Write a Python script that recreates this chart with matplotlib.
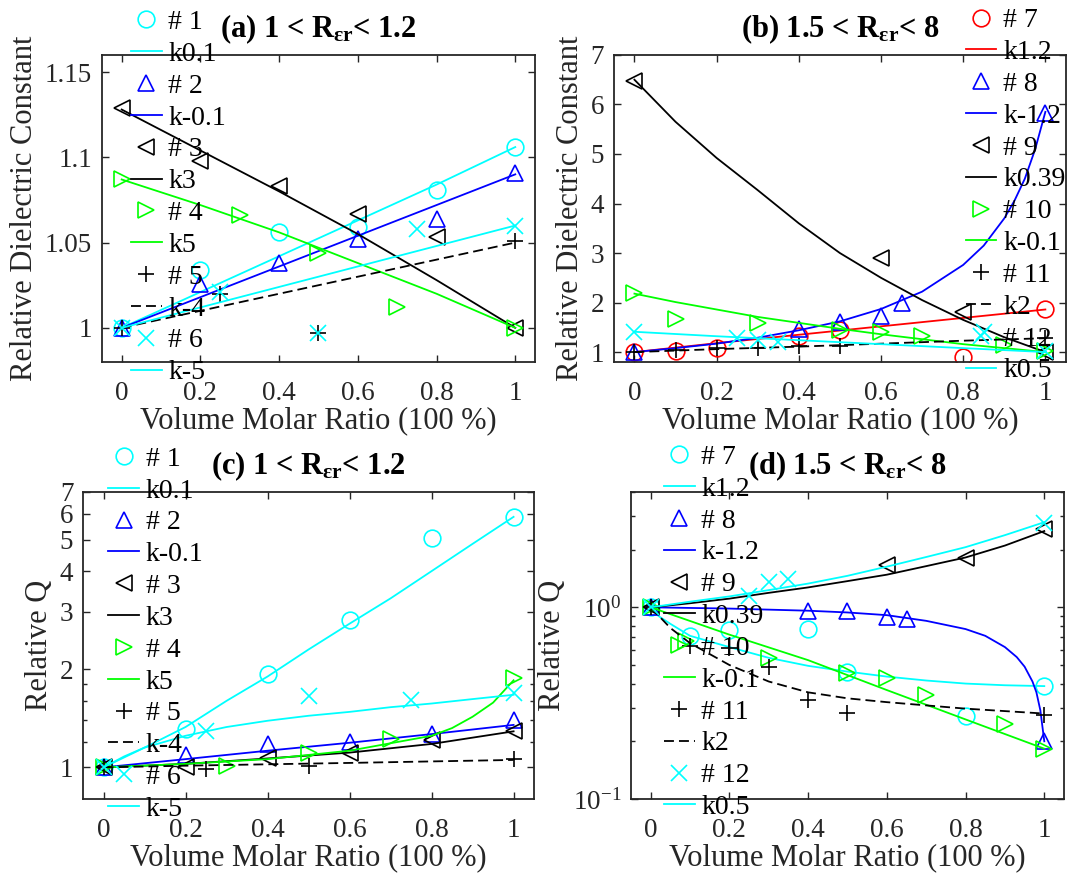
import numpy as np
import matplotlib
matplotlib.use('Agg')
import matplotlib.pyplot as plt
from matplotlib.ticker import FuncFormatter, FixedLocator, LogLocator, NullFormatter

plt.rcParams['font.family'] = 'Liberation Serif'
plt.rcParams['mathtext.fontset'] = 'custom'
plt.rcParams['mathtext.rm'] = 'Liberation Serif'
plt.rcParams['mathtext.it'] = 'Liberation Serif:italic'
plt.rcParams['mathtext.bf'] = 'Liberation Serif:bold'
plt.rcParams['mathtext.fallback'] = 'stix'

# ---- panel (a): relative dielectric constant, 1 < R < 1.2 ----
a_labels = ['# 1', 'k0.1', '# 2', 'k-0.1', '# 3', 'k3', '# 4', 'k5', '# 5', 'k-4', '# 6', 'k-5']
a_mark_x = [[0, 0.2, 0.4, 0.6, 0.8, 1],
            [0, 0.2, 0.4, 0.6, 0.8, 1],
            [0, 0.2, 0.4, 0.6, 0.8, 1],
            [0, 0.3, 0.5, 0.7, 1],
            [0, 0.25, 0.5, 1],
            [0, 0.25, 0.5, 0.75, 1]]
a_mark_y = [[1.0, 1.034, 1.056, 1.059, 1.081, 1.106],
            [1.0, 1.026, 1.038, 1.052, 1.064, 1.091],
            [1.129, 1.098, 1.083, 1.067, 1.053, 1.0],
            [1.087, 1.066, 1.044, 1.012, 1.0],
            [1.0, 1.02, 0.997, 1.051],
            [1.0, 1.021, 0.997, 1.058, 1.06]]
a_fit_x = [[0, 0.2, 0.4, 0.6, 0.8, 1]] * 6
a_fit_y = [[1.0, 1.021, 1.042, 1.063, 1.084, 1.106],
           [1.0, 1.018, 1.036, 1.054, 1.072, 1.09],
           [1.128, 1.104, 1.080, 1.055, 1.028, 1.0],
           [1.087, 1.072, 1.056, 1.038, 1.020, 1.0],
           [1.0, 1.01, 1.02, 1.03, 1.04, 1.05],
           [1.0, 1.012, 1.024, 1.036, 1.048, 1.06]]

# ---- panel (b): relative dielectric constant, 1.5 < R < 8 ----
b_labels = ['# 7', 'k1.2', '# 8', 'k-1.2', '# 9', 'k0.39', '# 10', 'k-0.1', '# 11', 'k2', '# 12', 'k0.5']
b_mark_x = [[0, 0.1, 0.2, 0.4, 0.5, 0.8, 1],
            [0, 0.4, 0.5, 0.6, 0.65, 1],
            [0, 0.6, 0.8, 1],
            [0, 0.1, 0.3, 0.5, 0.6, 0.7, 0.9, 1],
            [0, 0.1, 0.2, 0.3, 0.4, 0.5, 1],
            [0, 0.25, 0.3, 0.35, 0.85, 1]]
b_mark_y = [[1.0, 1.03, 1.09, 1.33, 1.45, 0.9, 1.86],
            [1.0, 1.47, 1.6, 1.72, 2.0, 5.83],
            [6.47, 2.9, 1.8, 1.0],
            [2.19, 1.66, 1.58, 1.45, 1.4, 1.33, 1.14, 1.03],
            [1.0, 1.04, 1.09, 1.08, 1.12, 1.13, 1.28],
            [1.41, 1.29, 1.24, 1.21, 1.41, 1.02]]
b_fit_x = [[0, 0.2, 0.4, 0.6, 0.8, 1],
           [0, 0.1, 0.2, 0.3, 0.4, 0.5, 0.6, 0.7, 0.8, 0.85, 0.9, 0.925, 0.95, 0.975, 1],
           [0, 0.1, 0.2, 0.3, 0.4, 0.5, 0.6, 0.7, 0.8, 0.9, 1],
           [0, 0.1, 0.2, 0.3, 0.4, 0.5, 0.6, 0.7, 0.8, 0.9, 1],
           [0, 0.2, 0.4, 0.6, 0.8, 1],
           [0, 0.2, 0.4, 0.6, 0.8, 1]]
b_fit_y = [[1.0, 1.18, 1.35, 1.52, 1.69, 1.86],
           [1.0, 1.08, 1.17, 1.29, 1.44, 1.62, 1.87, 2.22, 2.76, 3.15, 3.7, 4.06, 4.5, 5.09, 5.85],
           [6.5, 5.65, 4.92, 4.27, 3.6, 3.0, 2.5, 2.05, 1.65, 1.3, 1.0],
           [2.18, 2.01, 1.86, 1.71, 1.59, 1.47, 1.36, 1.26, 1.16, 1.08, 1.0],
           [1.0, 1.06, 1.11, 1.17, 1.23, 1.28],
           [1.41, 1.32, 1.24, 1.16, 1.08, 1.0]]

# ---- panel (c): relative Q, 1 < R < 1.2 ----
c_labels = a_labels
c_mark_x = [[0, 0.2, 0.4, 0.6, 0.8, 1],
            [0, 0.2, 0.4, 0.6, 0.8, 1],
            [0, 0.2, 0.4, 0.6, 0.8, 1],
            [0, 0.3, 0.5, 0.7, 1],
            [0, 0.25, 0.5, 1],
            [0, 0.25, 0.5, 0.75, 1]]
c_mark_y = [[1.0, 1.31, 1.94, 2.83, 5.06, 5.87],
            [1.0, 1.09, 1.18, 1.2, 1.27, 1.4],
            [1.0, 1.0, 1.07, 1.11, 1.21, 1.29],
            [1.0, 1.01, 1.11, 1.22, 1.88],
            [1.0, 0.99, 1.01, 1.06],
            [1.0, 1.29, 1.65, 1.61, 1.69]]
c_fit_x = [[0, 0.1, 0.2, 0.3, 0.4, 0.5, 0.6, 0.7, 0.8, 0.9, 1],
           [0, 0.2, 0.4, 0.6, 0.8, 1],
           [0, 0.2, 0.4, 0.6, 0.8, 1],
           [0, 0.2, 0.4, 0.6, 0.8, 0.85, 0.9, 0.95, 1],
           [0, 0.2, 0.4, 0.6, 0.8, 1],
           [0, 0.05, 0.1, 0.2, 0.3, 0.4, 0.5, 0.6, 0.7, 0.8, 0.9, 1]]
c_fit_y = [[1.0, 1.15, 1.33, 1.6, 1.9, 2.3, 2.76, 3.3, 4.0, 4.85, 5.87],
           [1.0, 1.06, 1.125, 1.19, 1.265, 1.35],
           [1.0, 1.025, 1.065, 1.11, 1.18, 1.29],
           [1.0, 1.025, 1.06, 1.125, 1.25, 1.32, 1.43, 1.58, 1.85],
           [1.0, 1.012, 1.022, 1.032, 1.043, 1.054],
           [1.0, 1.08, 1.15, 1.25, 1.33, 1.39, 1.44, 1.48, 1.53, 1.57, 1.62, 1.67]]

# ---- panel (d): relative Q, 1.5 < R < 8 ----
d_labels = b_labels
d_mark_x = [[0, 0.1, 0.2, 0.4, 0.5, 0.8, 1],
            [0, 0.4, 0.5, 0.6, 0.65, 1],
            [0, 0.6, 0.8, 1],
            [0, 0.09, 0.3, 0.5, 0.6, 0.7, 0.9, 1],
            [0, 0.1, 0.2, 0.3, 0.4, 0.5, 1],
            [0, 0.25, 0.3, 0.35, 1]]
d_mark_y = [[1.0, 0.71, 0.76, 0.77, 0.46, 0.27, 0.39],
            [1.0, 0.955, 0.955, 0.89, 0.865, 0.2],
            [1.0, 1.66, 1.81, 2.57],
            [1.0, 0.665, 0.545, 0.455, 0.43, 0.35, 0.245, 0.183],
            [1.0, 0.63, 0.61, 0.49, 0.33, 0.28, 0.275],
            [1.0, 1.15, 1.36, 1.4, 2.74]]
d_fit_x = [[0, 0.02, 0.05, 0.1, 0.2, 0.3, 0.4, 0.5, 0.6, 0.7, 0.8, 0.9, 1],
           [0, 0.2, 0.4, 0.5, 0.6, 0.7, 0.8, 0.85, 0.9, 0.93, 0.95, 0.97, 0.98, 0.99, 1],
           [0, 0.1, 0.2, 0.3, 0.4, 0.5, 0.6, 0.7, 0.8, 0.9, 1],
           [0, 0.2, 0.4, 0.6, 0.8, 1],
           [0, 0.05, 0.1, 0.2, 0.3, 0.4, 0.5, 0.6, 0.8, 1],
           [0, 0.1, 0.2, 0.3, 0.4, 0.5, 0.6, 0.7, 0.8, 0.9, 1]]
d_fit_y = [[1.0, 0.9, 0.82, 0.71, 0.62, 0.545, 0.495, 0.462, 0.435, 0.415, 0.40, 0.392, 0.388],
           [1.0, 0.985, 0.96, 0.94, 0.91, 0.85, 0.77, 0.71, 0.62, 0.55, 0.49, 0.41, 0.36, 0.29, 0.2],
           [1.0, 1.05, 1.11, 1.19, 1.27, 1.37, 1.48, 1.64, 1.82, 2.1, 2.5],
           [1.0, 0.72, 0.53, 0.37, 0.26, 0.183],
           [1.0, 0.78, 0.65, 0.5, 0.41, 0.36, 0.335, 0.32, 0.296, 0.279],
           [1.0, 1.07, 1.14, 1.23, 1.33, 1.46, 1.63, 1.83, 2.06, 2.38, 2.78]]

markers = ['o', '^', '<', '>', '+', 'x']
colors_ac = ['#00ffff', '#0000ff', 'k', '#00ff00', 'k', '#00ffff']
colors_b = ['#ff0000', '#0000ff', 'k', '#00ff00', 'k', '#00ffff']
colors_d = ['#00ffff', '#0000ff', 'k', '#00ff00', 'k', '#00ffff']

FS_TICK = 19.5
FS_LAB = 22
FS_LEG = 20
gfmt = FuncFormatter(lambda v, p: '%g' % v)


def draw_panel(ax, mx, my, fx, fy, colors, labels, title, ylabel, leg_xy):
    handles = []
    for i in range(6):
        ls = (0, (5.5, 2.8)) if i == 4 else '-'
        h1, = ax.plot(mx[i], my[i], linestyle='none', marker=markers[i], ms=12,
                      mfc='none', mec=colors[i], mew=1.2)
        h2, = ax.plot(fx[i], fy[i], color=colors[i], lw=1.3, linestyle=ls)
        handles += [h1, h2]
    ax.set_xlim(-0.05, 1.05)
    ax.set_xticks([0, 0.2, 0.4, 0.6, 0.8, 1])
    ax.xaxis.set_major_formatter(gfmt)
    ax.tick_params(which='both', direction='in', top=True, right=True, labelsize=FS_TICK,
                   width=1.0, color='#262626', labelcolor='#262626')
    ax.tick_params(which='major', length=5)
    ax.tick_params(which='minor', length=3)
    ax.tick_params(axis='x', pad=14)
    ax.tick_params(axis='y', pad=7)
    for s in ax.spines.values():
        s.set_linewidth(1.3)
        s.set_color('#262626')
    ax.set_xlabel('Volume Molar Ratio (100 %)', fontsize=FS_LAB, color='#262626', labelpad=0)
    ax.set_ylabel(ylabel, fontsize=FS_LAB, color='#262626', labelpad=4)
    ax.set_title(title, fontsize=FS_LAB, fontweight='bold', pad=13)
    ax.legend(handles, labels, loc='upper left', bbox_to_anchor=leg_xy,
              bbox_transform=fig.transFigure, frameon=False, fontsize=FS_LEG,
              numpoints=1, handlelength=1.1, handletextpad=0.25, labelspacing=0.23,
              borderpad=0, borderaxespad=0)


fig = plt.figure(figsize=(10.77, 8.75), dpi=100)

ax_a = fig.add_axes([0.0947, 0.5863, 0.402, 0.3509])
draw_panel(ax_a, a_mark_x, a_mark_y, a_fit_x, a_fit_y, colors_ac, a_labels,
           r'(a) 1 < R$_{\mathbf{\varepsilon r}}$< 1.2', 'Relative Dielectric Constant',
           (0.1216, 0.989))
ax_a.set_ylim(0.98, 1.16)
ax_a.set_yticks([1, 1.05, 1.1, 1.15])
ax_a.yaxis.set_major_formatter(gfmt)

ax_b = fig.add_axes([0.570, 0.5863, 0.4197, 0.3509])
draw_panel(ax_b, b_mark_x, b_mark_y, b_fit_x, b_fit_y, colors_b, b_labels,
           r'(b) 1.5 < R$_{\mathbf{\varepsilon r}}$< 8', 'Relative Dielectric Constant',
           (0.8967, 0.991))
ax_b.set_ylim(0.8, 7)
ax_b.set_yticks([1, 2, 3, 4, 5, 6, 7])
ax_b.yaxis.set_major_formatter(gfmt)

ax_c = fig.add_axes([0.0771, 0.0869, 0.4188, 0.3509])
draw_panel(ax_c, c_mark_x, c_mark_y, c_fit_x, c_fit_y, colors_ac, c_labels,
           r'(c) 1 < R$_{\mathbf{\varepsilon r}}$< 1.2', 'Relative Q',
           (0.1007, 0.490))
ax_c.set_yscale('log')
ax_c.set_ylim(0.8, 7)
ax_c.yaxis.set_major_locator(FixedLocator([1, 2, 3, 4, 5, 6, 7]))
ax_c.yaxis.set_major_formatter(gfmt)
ax_c.yaxis.set_minor_locator(FixedLocator([1.2, 1.4, 1.6, 1.8]))
ax_c.yaxis.set_minor_formatter(NullFormatter())

ax_d = fig.add_axes([0.5859, 0.0869, 0.402, 0.3509])
draw_panel(ax_d, d_mark_x, d_mark_y, d_fit_x, d_fit_y, colors_d, d_labels,
           r'(d) 1.5 < R$_{\mathbf{\varepsilon r}}$< 8', 'Relative Q',
           (0.6165, 0.492))
ax_d.set_yscale('log')
ax_d.set_ylim(0.1, 4)
ax_d.yaxis.set_major_locator(LogLocator(base=10))
ax_d.yaxis.set_minor_locator(LogLocator(base=10, subs=np.arange(2, 10)))
ax_d.yaxis.set_minor_formatter(NullFormatter())

fig.savefig('out.png', dpi=100)
